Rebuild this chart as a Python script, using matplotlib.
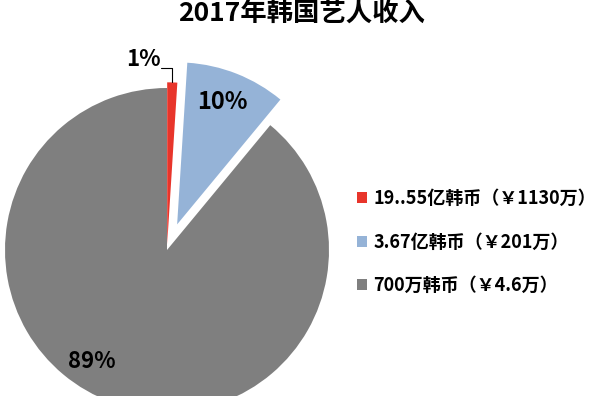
import numpy as np
import matplotlib.pyplot as plt

plt.rcParams['font.family'] = ['Noto Sans CJK SC', 'DejaVu Sans']

# data
labels = ['19..55亿韩币（￥1130万）', '3.67亿韩币（￥201万）', '700万韩币（￥4.6万）']
shares = [1, 10, 89]
pct_labels = ['1%', '10%', '89%']
colors = ['#E8352B', '#95B3D7', '#7F7F7F']
explode_frac = [0.035, 0.17, 0]

W, H = 608, 396
fig = plt.figure(figsize=(W / 100, H / 100), dpi=100)
ax = fig.add_axes([0, 0, 1, 1])

cx, cy, r = 167, H - 250, 162
# pie's explode is in data units, so scale by the radius
wedges, _ = ax.pie(shares, colors=colors, explode=[e * r for e in explode_frac],
                   startangle=90, counterclock=False, center=(cx, cy), radius=r,
                   wedgeprops=dict(linewidth=0))
ax.set_xlim(0, W)
ax.set_ylim(0, H)
ax.set_aspect('equal')
ax.axis('off')

def wedge_point(w, frac):
    ang = np.deg2rad((w.theta1 + w.theta2) / 2)
    x0, y0 = w.center
    return x0 + frac * w.r * np.cos(ang), y0 + frac * w.r * np.sin(ang)

# 1% label with leader line
px, py = wedge_point(wedges[0], 1.0)
ax.annotate(pct_labels[0], xy=(px, py), xytext=(161, H - 71),
            ha='right', va='bottom', fontsize=16, fontweight='bold',
            arrowprops=dict(arrowstyle='-', color='black', lw=0.8,
                            shrinkA=0, shrinkB=0, patchA=None,
                            relpos=(1.0, 0.12),
                            connectionstyle='angle,angleA=0,angleB=90,rad=0'))
ax.text(222, H - 102, pct_labels[1], ha='center', va='center',
        fontsize=17, fontweight='bold')
ax.text(92, H - 362, pct_labels[2], ha='center', va='center',
        fontsize=16, fontweight='bold')

fig.text(302 / W, 1 - 14 / H, '2017年韩国艺人收入', ha='center', va='center',
         fontsize=19, fontweight='bold')

leg = ax.legend(wedges, labels, loc='upper left',
                bbox_to_anchor=(341 / W, 1 - 173 / H),
                bbox_transform=fig.transFigure, frameon=False,
                handlelength=0.55, handleheight=0.55, handletextpad=0.35,
                labelspacing=1.35, prop=dict(size=13, weight='bold'))

fig.savefig('out.png', dpi=100, facecolor='white')
